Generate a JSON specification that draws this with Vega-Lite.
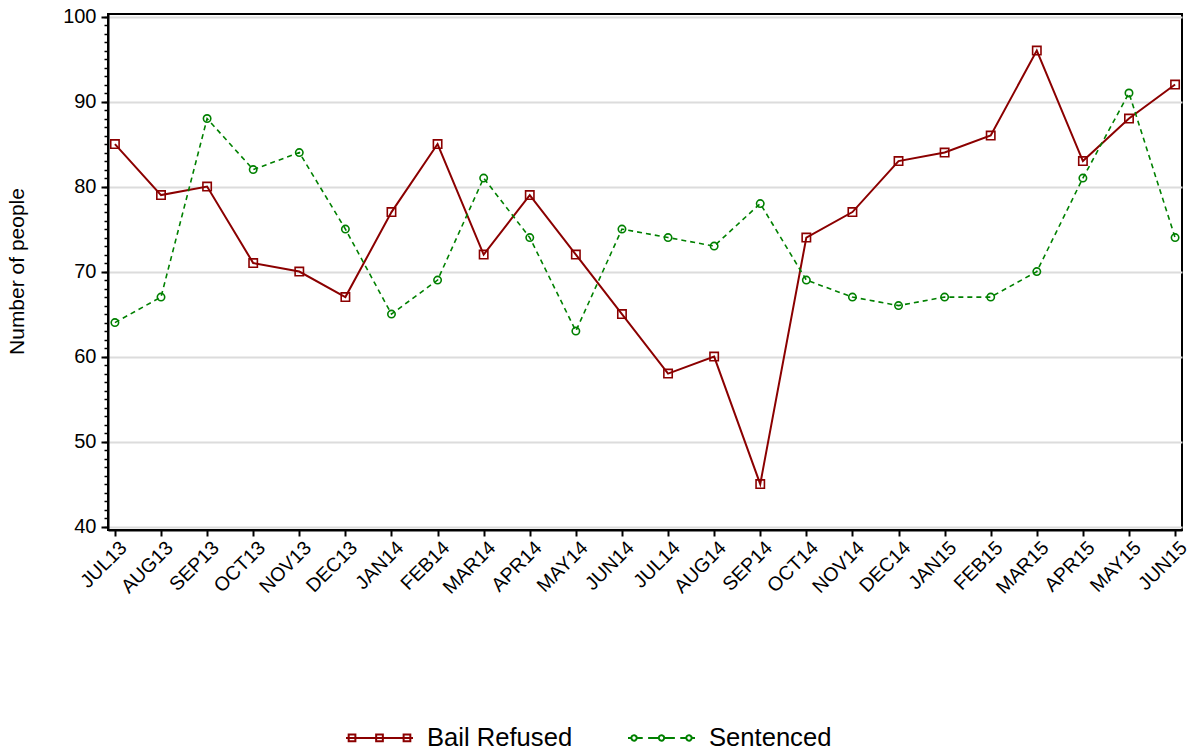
{
  "$schema": "https://vega.github.io/schema/vega-lite/v6.json",
  "width": 1074,
  "height": 516,
  "autosize": {"type": "none"},
  "padding": {"left": 108, "top": 14, "right": 10, "bottom": 221},
  "background": "white",
  "config": {
    "font": "Liberation Sans",
    "view": {"stroke": "black", "strokeWidth": 2},
    "axis": {"labelFont": "Liberation Sans", "titleFont": "Liberation Sans", "labelColor": "black", "titleColor": "black", "tickColor": "black", "domainColor": "black"}
  },
  "datasets": {
    "rows": [
      {"month": "JUL13", "series": "Bail Refused", "value": 85},
      {"month": "AUG13", "series": "Bail Refused", "value": 79},
      {"month": "SEP13", "series": "Bail Refused", "value": 80},
      {"month": "OCT13", "series": "Bail Refused", "value": 71},
      {"month": "NOV13", "series": "Bail Refused", "value": 70},
      {"month": "DEC13", "series": "Bail Refused", "value": 67},
      {"month": "JAN14", "series": "Bail Refused", "value": 77},
      {"month": "FEB14", "series": "Bail Refused", "value": 85},
      {"month": "MAR14", "series": "Bail Refused", "value": 72},
      {"month": "APR14", "series": "Bail Refused", "value": 79},
      {"month": "MAY14", "series": "Bail Refused", "value": 72},
      {"month": "JUN14", "series": "Bail Refused", "value": 65},
      {"month": "JUL14", "series": "Bail Refused", "value": 58},
      {"month": "AUG14", "series": "Bail Refused", "value": 60},
      {"month": "SEP14", "series": "Bail Refused", "value": 45},
      {"month": "OCT14", "series": "Bail Refused", "value": 74},
      {"month": "NOV14", "series": "Bail Refused", "value": 77},
      {"month": "DEC14", "series": "Bail Refused", "value": 83},
      {"month": "JAN15", "series": "Bail Refused", "value": 84},
      {"month": "FEB15", "series": "Bail Refused", "value": 86},
      {"month": "MAR15", "series": "Bail Refused", "value": 96},
      {"month": "APR15", "series": "Bail Refused", "value": 83},
      {"month": "MAY15", "series": "Bail Refused", "value": 88},
      {"month": "JUN15", "series": "Bail Refused", "value": 92},
      {"month": "JUL13", "series": "Sentenced", "value": 64},
      {"month": "AUG13", "series": "Sentenced", "value": 67},
      {"month": "SEP13", "series": "Sentenced", "value": 88},
      {"month": "OCT13", "series": "Sentenced", "value": 82},
      {"month": "NOV13", "series": "Sentenced", "value": 84},
      {"month": "DEC13", "series": "Sentenced", "value": 75},
      {"month": "JAN14", "series": "Sentenced", "value": 65},
      {"month": "FEB14", "series": "Sentenced", "value": 69},
      {"month": "MAR14", "series": "Sentenced", "value": 81},
      {"month": "APR14", "series": "Sentenced", "value": 74},
      {"month": "MAY14", "series": "Sentenced", "value": 63},
      {"month": "JUN14", "series": "Sentenced", "value": 75},
      {"month": "JUL14", "series": "Sentenced", "value": 74},
      {"month": "AUG14", "series": "Sentenced", "value": 73},
      {"month": "SEP14", "series": "Sentenced", "value": 78},
      {"month": "OCT14", "series": "Sentenced", "value": 69},
      {"month": "NOV14", "series": "Sentenced", "value": 67},
      {"month": "DEC14", "series": "Sentenced", "value": 66},
      {"month": "JAN15", "series": "Sentenced", "value": 67},
      {"month": "FEB15", "series": "Sentenced", "value": 67},
      {"month": "MAR15", "series": "Sentenced", "value": 70},
      {"month": "APR15", "series": "Sentenced", "value": 81},
      {"month": "MAY15", "series": "Sentenced", "value": 91},
      {"month": "JUN15", "series": "Sentenced", "value": 74}
    ]
  },
  "data": {"name": "rows"},
  "resolve": {"axis": {"y": "independent"}},
  "layer": [
    {
      "transform": [{"filter": "datum.series === 'Bail Refused'"}],
      "mark": {"type": "line", "strokeWidth": 2, "strokeCap": "butt"},
      "encoding": {
        "x": {"field": "month", "type": "ordinal", "sort": null,
          "scale": {"type": "point", "padding": 0.15},
          "axis": {"title": null, "labelAngle": -45, "labelFontSize": 19.5, "tickSize": 6, "tickWidth": 2, "domainWidth": 2, "labelPadding": 2, "labelOffset": 2, "grid": false}},
        "y": {"field": "value", "type": "quantitative",
          "scale": {"domain": [39.6, 100.3], "nice": false, "zero": false},
          "axis": {"orient": "left", "title": "Number of people", "titleFontSize": 21, "titleFontWeight": "normal", "titleAngle": -90, "titleX": -91, "titleY": 257, "titleAlign": "center", "titleBaseline": "middle",
            "values": [40, 50, 60, 70, 80, 90, 100], "labelFontSize": 20, "tickSize": 7, "tickWidth": 2, "domainWidth": 2, "labelPadding": 5,
            "grid": true, "gridColor": "#dcdcdc", "gridWidth": 2}},
        "color": {"field": "series", "type": "nominal",
          "scale": {"domain": ["Bail Refused", "Sentenced"], "range": ["#8B0000", "#008000"]},
          "legend": {"orient": "none", "legendX": 237, "legendY": 689, "direction": "horizontal", "title": null,
            "symbolSize": 4489, "symbolStrokeWidth": 2, "symbolFillColor": "transparent",
            "labelFont": "Liberation Sans", "labelFontSize": 25.6, "labelColor": "black", "labelOffset": 13, "columnPadding": 51, "padding": 0,
            "encode": {"symbols": {"update": {
              "shape": {"signal": "datum.value === 'Bail Refused' ? 'M-1,0H1M-0.92,-0.1h0.2v0.2h-0.2zM-0.1,-0.1h0.2v0.2h-0.2zM0.72,-0.1h0.2v0.2h-0.2z' : 'M-1,0H-0.9M-0.74,0H-0.56M-0.4,0H-0.08M0.08,0H0.4M0.56,0H0.74M-0.9,0a0.08,0.08 0 1,0 0.16,0a0.08,0.08 0 1,0 -0.16,0M-0.08,0a0.08,0.08 0 1,0 0.16,0a0.08,0.08 0 1,0 -0.16,0M0.74,0a0.08,0.08 0 1,0 0.16,0a0.08,0.08 0 1,0 -0.16,0M0.9,0H1'"},
              "size": {"value": 4489},
              "strokeDash": {"value": [1, 0]},
              "strokeWidth": {"value": 2},
              "fill": {"value": "transparent"},
              "opacity": {"value": 1}
            }}}}}
      }
    },
    {
      "transform": [{"filter": "datum.series === 'Sentenced'"}],
      "mark": {"type": "line", "strokeWidth": 1.6, "strokeDash": [5, 4], "strokeCap": "butt"},
      "encoding": {
        "x": {"field": "month", "type": "ordinal", "sort": null},
        "y": {"field": "value", "type": "quantitative", "axis": null},
        "color": {"field": "series", "type": "nominal",
          "legend": {"orient": "none", "legendX": 237, "legendY": 689, "direction": "horizontal", "title": null,
            "symbolSize": 4489, "symbolStrokeWidth": 2, "symbolFillColor": "transparent",
            "labelFont": "Liberation Sans", "labelFontSize": 25.6, "labelColor": "black", "labelOffset": 13, "columnPadding": 51, "padding": 0,
            "encode": {"symbols": {"update": {
              "shape": {"signal": "datum.value === 'Bail Refused' ? 'M-1,0H1M-0.92,-0.1h0.2v0.2h-0.2zM-0.1,-0.1h0.2v0.2h-0.2zM0.72,-0.1h0.2v0.2h-0.2z' : 'M-1,0H-0.9M-0.74,0H-0.56M-0.4,0H-0.08M0.08,0H0.4M0.56,0H0.74M-0.9,0a0.08,0.08 0 1,0 0.16,0a0.08,0.08 0 1,0 -0.16,0M-0.08,0a0.08,0.08 0 1,0 0.16,0a0.08,0.08 0 1,0 -0.16,0M0.74,0a0.08,0.08 0 1,0 0.16,0a0.08,0.08 0 1,0 -0.16,0M0.9,0H1'"},
              "size": {"value": 4489},
              "strokeDash": {"value": [1, 0]},
              "strokeWidth": {"value": 2},
              "fill": {"value": "transparent"},
              "opacity": {"value": 1}
            }}}}}
      }
    },
    {
      "transform": [{"filter": "datum.series === 'Bail Refused'"}],
      "mark": {"type": "point", "shape": "square", "size": 70, "filled": false, "strokeWidth": 1.6, "opacity": 1},
      "encoding": {
        "x": {"field": "month", "type": "ordinal", "sort": null},
        "y": {"field": "value", "type": "quantitative",
          "axis": {"orient": "left", "title": null, "labels": false, "domain": false, "grid": false,
            "values": [40,41,42,43,44,45,46,47,48,49,50,51,52,53,54,55,56,57,58,59,60,61,62,63,64,65,66,67,68,69,70,71,72,73,74,75,76,77,78,79,80,81,82,83,84,85,86,87,88,89,90,91,92,93,94,95,96,97,98,99,100],
            "tickSize": 4, "tickWidth": 1.5}},
        "color": {"field": "series", "type": "nominal",
          "legend": {"orient": "none", "legendX": 237, "legendY": 689, "direction": "horizontal", "title": null,
            "symbolSize": 4489, "symbolStrokeWidth": 2, "symbolFillColor": "transparent",
            "labelFont": "Liberation Sans", "labelFontSize": 25.6, "labelColor": "black", "labelOffset": 13, "columnPadding": 51, "padding": 0,
            "encode": {"symbols": {"update": {
              "shape": {"signal": "datum.value === 'Bail Refused' ? 'M-1,0H1M-0.92,-0.1h0.2v0.2h-0.2zM-0.1,-0.1h0.2v0.2h-0.2zM0.72,-0.1h0.2v0.2h-0.2z' : 'M-1,0H-0.9M-0.74,0H-0.56M-0.4,0H-0.08M0.08,0H0.4M0.56,0H0.74M-0.9,0a0.08,0.08 0 1,0 0.16,0a0.08,0.08 0 1,0 -0.16,0M-0.08,0a0.08,0.08 0 1,0 0.16,0a0.08,0.08 0 1,0 -0.16,0M0.74,0a0.08,0.08 0 1,0 0.16,0a0.08,0.08 0 1,0 -0.16,0M0.9,0H1'"},
              "size": {"value": 4489},
              "strokeDash": {"value": [1, 0]},
              "strokeWidth": {"value": 2},
              "fill": {"value": "transparent"},
              "opacity": {"value": 1}
            }}}}}
      }
    },
    {
      "transform": [{"filter": "datum.series === 'Sentenced'"}],
      "mark": {"type": "point", "shape": "circle", "size": 55, "filled": false, "strokeWidth": 1.6, "opacity": 1},
      "encoding": {
        "x": {"field": "month", "type": "ordinal", "sort": null},
        "y": {"field": "value", "type": "quantitative", "axis": null},
        "color": {"field": "series", "type": "nominal",
          "legend": {"orient": "none", "legendX": 237, "legendY": 689, "direction": "horizontal", "title": null,
            "symbolSize": 4489, "symbolStrokeWidth": 2, "symbolFillColor": "transparent",
            "labelFont": "Liberation Sans", "labelFontSize": 25.6, "labelColor": "black", "labelOffset": 13, "columnPadding": 51, "padding": 0,
            "encode": {"symbols": {"update": {
              "shape": {"signal": "datum.value === 'Bail Refused' ? 'M-1,0H1M-0.92,-0.1h0.2v0.2h-0.2zM-0.1,-0.1h0.2v0.2h-0.2zM0.72,-0.1h0.2v0.2h-0.2z' : 'M-1,0H-0.9M-0.74,0H-0.56M-0.4,0H-0.08M0.08,0H0.4M0.56,0H0.74M-0.9,0a0.08,0.08 0 1,0 0.16,0a0.08,0.08 0 1,0 -0.16,0M-0.08,0a0.08,0.08 0 1,0 0.16,0a0.08,0.08 0 1,0 -0.16,0M0.74,0a0.08,0.08 0 1,0 0.16,0a0.08,0.08 0 1,0 -0.16,0M0.9,0H1'"},
              "size": {"value": 4489},
              "strokeDash": {"value": [1, 0]},
              "strokeWidth": {"value": 2},
              "fill": {"value": "transparent"},
              "opacity": {"value": 1}
            }}}}}
      }
    }
  ]
}
